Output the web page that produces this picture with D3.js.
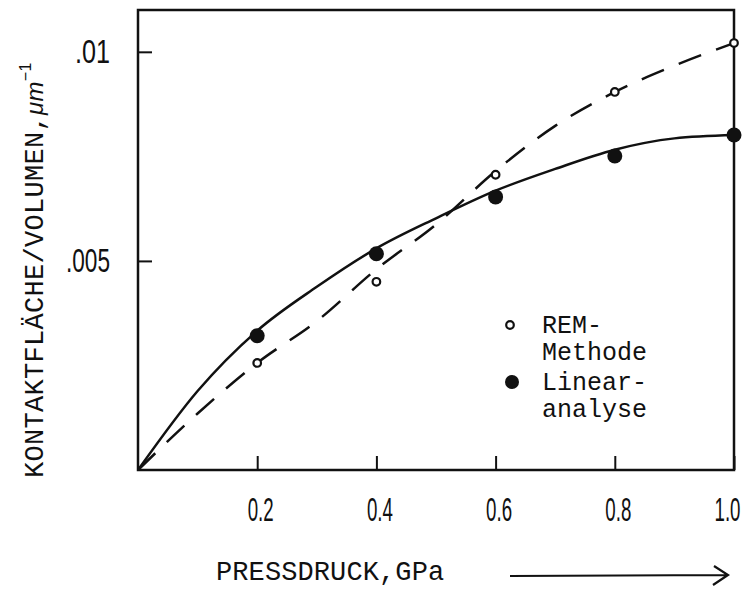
<!DOCTYPE html>
<html>
<head>
<meta charset="utf-8">
<script src="https://cdn.jsdelivr.net/npm/d3@7"></script>
<style>
  body { margin: 0; background: #fff; }
  .mono { font-family: 'Liberation Mono', 'DejaVu Sans Mono', monospace; fill: #111; }
  .hand { font-family: 'Liberation Sans', 'DejaVu Sans', sans-serif; fill: #111; }
</style>
</head>
<body>
<div id="chart"></div>
<script>
document.addEventListener('DOMContentLoaded', init, false);

var width = 747;
var height = 589;

// measured points
var pressure = [0.2, 0.4, 0.6, 0.8, 1.0];
var remValues = [0.00256, 0.00450, 0.00706, 0.00904, 0.01021];
var linearValues = [0.00321, 0.00517, 0.00653, 0.00751, 0.00801];

// hand drawn fit curves
var curvePressure = [0, 0.1, 0.2, 0.3, 0.4, 0.5, 0.6, 0.7, 0.8, 0.9, 1.0];
var remCurve = [0, 0.00135, 0.00256, 0.00356, 0.00480, 0.00587, 0.00715, 0.00823, 0.00904, 0.00967, 0.01021];
var linearCurve = [0, 0.00189, 0.00333, 0.00438, 0.00530, 0.00602, 0.00668, 0.00720, 0.00766, 0.00793, 0.00801];

var xTicks = [0.2, 0.4, 0.6, 0.8, 1.0];
var xTickLabels = ['0.2', '0.4', '0.6', '0.8', '1.0'];
var yTicks = [0.005, 0.01];
var yTickLabels = ['.005', '.01'];

var legendLabels = [['REM-', 'Methode'], ['Linear-', 'analyse']];

function init() {

  var svg = d3.select('#chart')
    .append('svg')
      .attr('width', width)
      .attr('height', height);

  var x = d3.scaleLinear().domain([0, 1]).range([138, 734]);
  var y = d3.scaleLinear().domain([0, 0.011]).range([470, 10]);

  // frame
  svg.append('rect')
    .attr('x', x(0))
    .attr('y', y(0.011))
    .attr('width', x(1) - x(0))
    .attr('height', y(0) - y(0.011))
    .attr('fill', 'none')
    .attr('stroke', '#111')
    .attr('stroke-width', 2.5);

  var xAxis = svg.append('g')
    .attr('transform', 'translate(0,' + y(0) + ')')
    .call(d3.axisBottom(x)
      .tickValues(xTicks)
      .tickSize(-14)
      .tickPadding(27)
      .tickFormat(function (d, i) { return xTickLabels[i]; }));

  var yAxis = svg.append('g')
    .attr('transform', 'translate(' + x(0) + ',0)')
    .call(d3.axisLeft(y)
      .tickValues(yTicks)
      .tickSize(-14)
      .tickPadding(28)
      .tickFormat(function (d, i) { return yTickLabels[i]; }));

  [xAxis, yAxis].forEach(function (g) {
    g.select('.domain').remove();
    g.selectAll('line').attr('stroke', '#111').attr('stroke-width', 2);
    g.selectAll('text')
      .attr('class', 'hand')
      .style('font-size', '34px')
      .attr('fill', '#111')
      .attr('lengthAdjust', 'spacingAndGlyphs');
  });

  xAxis.selectAll('text')
    .attr('textLength', 26)
    .attr('x', function (d) { return d === 1 ? -7 : 3; });
  yAxis.selectAll('text')
    .attr('textLength', function (d) { return d === 0.01 ? 35 : 44; });

  var line = d3.line()
    .x(function (d) { return x(d[0]); })
    .y(function (d) { return y(d[1]); })
    .curve(d3.curveMonotoneX);

  svg.append('path')
    .datum(d3.zip(curvePressure, linearCurve))
    .attr('fill', 'none')
    .attr('stroke', '#111')
    .attr('stroke-width', 2.5)
    .attr('d', line);

  svg.append('path')
    .datum(d3.zip(curvePressure, remCurve))
    .attr('fill', 'none')
    .attr('stroke', '#111')
    .attr('stroke-width', 2.5)
    .attr('stroke-dasharray', '24,16')
    .attr('d', line);

  svg.selectAll('.lin')
      .data(d3.zip(pressure, linearValues))
      .enter()
    .append('circle')
      .attr('cx', function (d) { return x(d[0]); })
      .attr('cy', function (d) { return y(d[1]); })
      .attr('r', 7.5)
      .attr('fill', '#111');

  svg.selectAll('.rem')
      .data(d3.zip(pressure, remValues))
      .enter()
    .append('circle')
      .attr('cx', function (d) { return x(d[0]); })
      .attr('cy', function (d) { return y(d[1]); })
      .attr('r', 3.8)
      .attr('fill', '#fff')
      .attr('stroke', '#111')
      .attr('stroke-width', 2.2);

  // legend
  var legend = svg.append('g').attr('transform', 'translate(510,325)');

  legend.append('circle')
    .attr('cx', 0).attr('cy', 0).attr('r', 3.8)
    .attr('fill', '#fff').attr('stroke', '#111').attr('stroke-width', 2.2);
  legend.append('circle')
    .attr('cx', 2).attr('cy', 57).attr('r', 7)
    .attr('fill', '#111');

  legendLabels.forEach(function (lines, i) {
    lines.forEach(function (t, j) {
      legend.append('text')
        .attr('class', 'mono')
        .attr('x', 32)
        .attr('y', 8 + i * 57 + j * 27)
        .style('font-size', '25px')
        .text(t);
    });
  });

  // axis titles
  var yTitle = svg.append('text')
    .attr('class', 'mono')
    .attr('transform', 'translate(43,478) rotate(-90)')
    .style('font-size', '27px')
    .style('letter-spacing', '0.3px');
  yTitle.append('tspan').text('KONTAKTFLÄCHE/VOLUMEN,');
  yTitle.append('tspan')
    .attr('class', 'hand')
    .style('font-style', 'italic')
    .style('font-size', '24px')
    .text('μm');
  yTitle.append('tspan')
    .attr('class', 'hand')
    .attr('dy', -12)
    .style('font-size', '16px')
    .text('−1');

  svg.append('text')
    .attr('class', 'mono')
    .attr('x', 216)
    .attr('y', 580)
    .style('font-size', '27px')
    .style('letter-spacing', '0.1px')
    .text('PRESSDRUCK,GPa');

  // arrow
  svg.append('path')
    .attr('d', 'M510,576 L728,575 M714,566 L728,575 L713,585')
    .attr('fill', 'none')
    .attr('stroke', '#111')
    .attr('stroke-width', 2.2);
}
</script>
</body>
</html>
